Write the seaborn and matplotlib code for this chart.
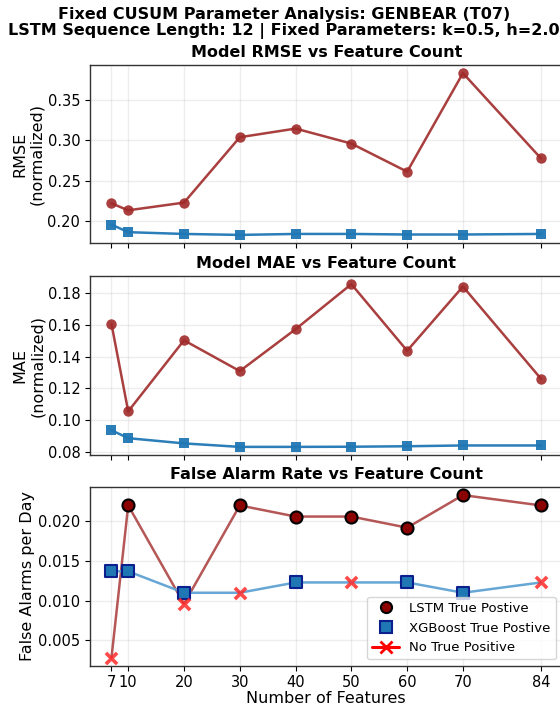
import matplotlib
matplotlib.use("Agg")
import matplotlib.pyplot as plt
from matplotlib.lines import Line2D
from matplotlib.ticker import MultipleLocator
import numpy as np
import pandas as pd
import seaborn as sns

# Feature counts evaluated
features = [7, 10, 20, 30, 40, 50, 60, 70, 84]

# Model error (normalized)
lstm_rmse = [0.2215, 0.2128, 0.2224, 0.3040, 0.3148, 0.2961, 0.2610, 0.3840, 0.2775]
xgb_rmse = [0.1950, 0.1855, 0.1833, 0.1821, 0.1833, 0.1833, 0.1826, 0.1826, 0.1833]
lstm_mae = [0.1606, 0.1055, 0.1503, 0.1309, 0.1573, 0.1857, 0.1437, 0.1842, 0.1260]
xgb_mae = [0.0936, 0.0886, 0.0853, 0.0831, 0.0831, 0.0832, 0.0835, 0.0840, 0.0840]

# False alarms per day and whether a true positive was detected
lstm_far = [0.0028, 0.0220, 0.0096, 0.0220, 0.0206, 0.0206, 0.0192, 0.0233, 0.0220]
xgb_far = [0.0137, 0.0137, 0.0110, 0.0110, 0.0123, 0.0123, 0.0123, 0.0110, 0.0123]
lstm_tp = [False, True, False, True, True, True, True, True, True]
xgb_tp = [True, True, True, False, True, False, True, True, False]

sns.set_theme(style="ticks", rc={
    "text.color": "black", "axes.labelcolor": "black",
    "xtick.color": "black", "ytick.color": "black",
    "xtick.major.size": 3.5, "ytick.major.size": 3.5,
    "xtick.major.width": 0.8, "ytick.major.width": 0.8,
    "xtick.major.pad": 3.0, "ytick.major.pad": 3.5,
    "axes.edgecolor": "#333333", "axes.linewidth": 1.0,
})
plt.rcParams["font.family"] = ["DejaVu Sans"]

LSTM_C = "#a02a2a"
XGB_C = "#1f77b4"

fig = plt.figure(figsize=(5.6, 7.07), dpi=100)
left, width = 0.1607, 0.8438
ax1 = fig.add_axes([left, 0.6563, width, 0.2517])
ax2 = fig.add_axes([left, 0.3564, width, 0.2532], sharex=ax1)
ax3 = fig.add_axes([left, 0.0580, width, 0.2532], sharex=ax1)

df = pd.DataFrame({
    "features": features,
    "lstm_rmse": lstm_rmse, "xgb_rmse": xgb_rmse,
    "lstm_mae": lstm_mae, "xgb_mae": xgb_mae,
    "lstm_far": lstm_far, "xgb_far": xgb_far,
    "lstm_tp": lstm_tp, "xgb_tp": xgb_tp,
})

for ax, lcol, xcol, title, ylab, step in [
    (ax1, "lstm_rmse", "xgb_rmse", "Model RMSE vs Feature Count", "RMSE\n(normalized)", 0.05),
    (ax2, "lstm_mae", "xgb_mae", "Model MAE vs Feature Count", "MAE\n(normalized)", 0.02),
]:
    sns.lineplot(data=df, x="features", y=lcol, ax=ax, color=LSTM_C, marker="o",
                 markersize=7.5, linewidth=1.8, alpha=0.9, markeredgewidth=0,
                 markeredgecolor=LSTM_C)
    sns.lineplot(data=df, x="features", y=xcol, ax=ax, color=XGB_C, marker="s",
                 markersize=7, linewidth=1.8, alpha=0.95, markeredgewidth=0,
                 markeredgecolor=XGB_C)
    ax.set_title(title, fontsize=11.5, fontweight="bold", pad=6)
    ax.set_ylabel(ylab, fontsize=11.5, labelpad=2)
    ax.set_xlabel("")
    ax.yaxis.set_major_locator(MultipleLocator(step))
    plt.setp(ax.get_xticklabels(), visible=False)

# False alarm rate panel: lines, then markers by detection outcome
sns.lineplot(data=df, x="features", y="lstm_far", ax=ax3, color="#a83a3a",
             linewidth=1.8, alpha=0.85)
sns.lineplot(data=df, x="features", y="xgb_far", ax=ax3, color="#5fa2d3",
             linewidth=1.8, alpha=0.95)
sns.scatterplot(data=df[df.lstm_tp], x="features", y="lstm_far", ax=ax3,
                color="#8b0000", edgecolor="black", linewidth=1.5, s=75,
                marker="o", zorder=5)
sns.scatterplot(data=df[df.xgb_tp], x="features", y="xgb_far", ax=ax3,
                color=XGB_C, edgecolor="#0b1f8f", linewidth=1.5, s=75,
                marker="s", zorder=5)
sns.scatterplot(data=df[~df.lstm_tp], x="features", y="lstm_far", ax=ax3,
                color="#ff2a2a", linewidth=2.6, s=65, marker="x", alpha=0.85,
                zorder=6)
sns.scatterplot(data=df[~df.xgb_tp], x="features", y="xgb_far", ax=ax3,
                color="#ff2a2a", linewidth=2.6, s=65, marker="x", alpha=0.85,
                zorder=6)
ax3.set_title("False Alarm Rate vs Feature Count", fontsize=11.5,
              fontweight="bold", pad=6)
ax3.set_ylabel("False Alarms per Day", fontsize=11.5, labelpad=2)
ax3.set_xlabel("Number of Features", fontsize=11.5, labelpad=1)
ax3.yaxis.set_major_locator(MultipleLocator(0.005))

handles = [
    Line2D([], [], linestyle="none", marker="o", markersize=8,
           markerfacecolor="#8b0000", markeredgecolor="black", markeredgewidth=1.5),
    Line2D([], [], linestyle="none", marker="s", markersize=8,
           markerfacecolor=XGB_C, markeredgecolor="#0b1f8f", markeredgewidth=1.5),
    Line2D([], [], color="red", linewidth=2.2, marker="x", markersize=8,
           markeredgewidth=2),
]
ax3.legend(handles, ["LSTM True Postive", "XGBoost True Postive", "No True Positive"],
           loc="lower right", fontsize=9.5, frameon=True)

for ax in (ax1, ax2, ax3):
    ax.set_xticks(features)
    ax.grid(True, alpha=0.35)
    ax.tick_params(labelsize=10.5)
ax3.set_xticklabels([str(f) for f in features])

fig.suptitle("Fixed CUSUM Parameter Analysis: GENBEAR (T07)\n"
             "LSTM Sequence Length: 12 | Fixed Parameters: k=0.5, h=2.0",
             fontsize=11.5, fontweight="bold", x=0.507, y=0.990, linespacing=1.05)

fig.savefig("out.png", dpi=100)
